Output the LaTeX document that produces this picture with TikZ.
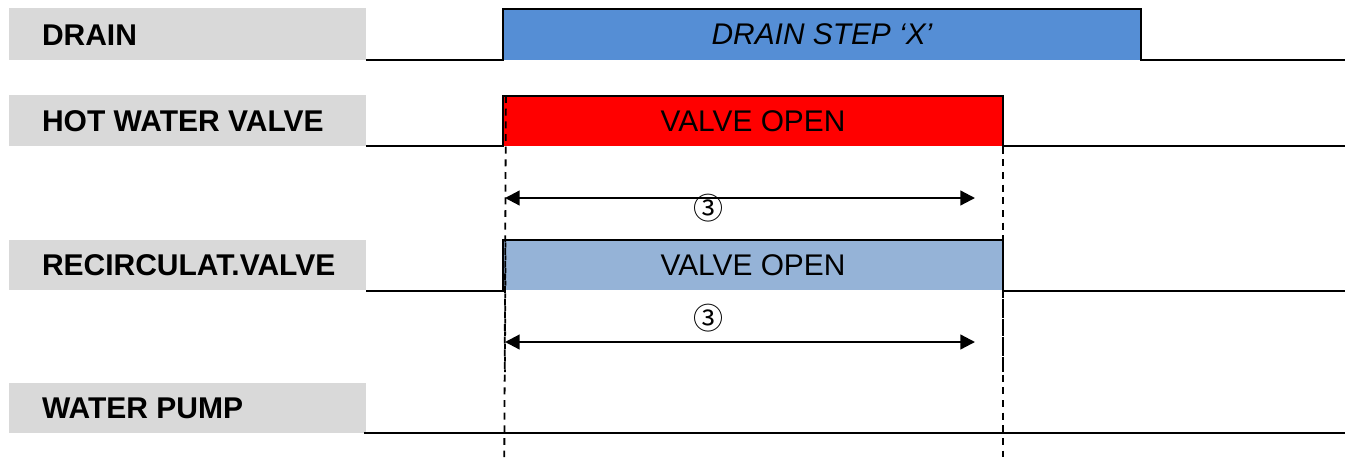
\documentclass[tikz,border=0pt]{standalone}
\usepackage{fontspec}
\setmainfont{Liberation Sans}
\newfontfamily\circfont{Noto Sans CJK KR}
\usetikzlibrary{arrows.meta,calc}
\definecolor{rowgray}{HTML}{D9D9D9}
\definecolor{drainblue}{HTML}{558ED5}
\definecolor{valveblue}{HTML}{95B3D7}
\tikzset{
  rowbox/.style={fill=rowgray,draw=none,inner sep=0pt,outer sep=0pt,anchor=north west,minimum width=267.75pt},
  rowlabel/.style={anchor=base west,inner sep=0pt,outer sep=0pt,font=\fontsize{22.5}{25}\selectfont\bfseries},
  pulse/.style={inner sep=0pt,outer sep=0pt,anchor=north west,minimum height=37.5pt,font=\fontsize{22.4}{25}\selectfont},
  wave/.style={line width=1.7pt,line join=miter},
  guide/.style={line width=1.35pt,dash pattern=on 5.2pt off 4.3pt},
  guideover/.style={line width=1.35pt,dash pattern=on 3.6pt off 5.9pt,dash phase=4.45pt},
  span/.style={line width=1.7pt,{Triangle[length=11pt,width=11pt]}-{Triangle[length=11pt,width=11pt]}},
  circnum/.style={inner sep=0pt,outer sep=0pt,font=\fontsize{22.5}{25}\circfont}
}
\begin{document}
\begin{tikzpicture}[x=0.75pt,y=-0.75pt]
\useasboundingbox (0,0) rectangle (1351,457);
% row label boxes
\node[rowbox,minimum height=39pt] (b1) at (9,8) {};
\node[rowbox,minimum height=38.25pt] (b2) at (9,95) {};
\node[rowbox,minimum height=37.5pt] (b3) at (9,240) {};
\node[rowbox,minimum height=37.5pt] (b4) at (9,383) {};
\node[rowlabel] (t1) at (42,45.3) {DRAIN};
\node[rowlabel] (t2) at (42,131) {HOT WATER VALVE};
\node[rowlabel] (t3) at (42,275.7) {RECIRCULAT.VALVE};
\node[rowlabel] (t4) at (42,418.7) {WATER PUMP};
% pulses
\node[pulse,fill=drainblue,minimum width=478.5pt,minimum height=38.25pt,font=\fontsize{22.4}{25}\selectfont\itshape] (p1) at (503,9) {DRAIN STEP ‘X’};
\node[pulse,fill=red,minimum width=375pt] (p2) at (503,96) {VALVE OPEN};
\node[pulse,fill=valveblue,minimum width=375pt,minimum height=37.5pt] (p3) at (503,240) {VALVE OPEN};
% line ends
\coordinate (e1) at (1345,60);
\coordinate (e2) at (1345,146);
\coordinate (e3) at (1345,291);
\coordinate (s3) at (366,291);
\coordinate (s4) at (364,433);
\coordinate (e4) at (1345,433);
\draw[wave] (b1.south east) -- (p1.south west) -- (p1.north west) -- (p1.north east) -- (p1.south east) -- (e1);
\draw[wave] (b2.south east) -- (p2.south west) -- (p2.north west) -- (p2.north east) -- (p2.south east) -- (e2);
\draw[wave] (s3) -- (s3 -| p3.west) -- (p3.north west) -- (p3.north east) -- (e3 -| p3.east) -- (e3);
\draw[wave] (s4) -- (e4);
% guides
\coordinate (gl1) at (505.9,96);
\coordinate (gl2) at (504.3,457);
\coordinate (gr1) at (1003,96);
\coordinate (gr2) at (1003,457);
\coordinate (ol1) at (505.6,236);
\coordinate (ol2) at (504.9,372);
\coordinate (or1) at (1003,236);
\coordinate (or2) at (1003,372);
\draw[guide] (gl1) -- (gl2);
\draw[guide] (gr1) -- (gr2);
\draw[guideover] (ol1) -- (ol2);
\draw[guideover] (or1) -- (or2);
% spans
\coordinate (a1l) at (505,198);
\coordinate (a1r) at (975,198);
\coordinate (a2l) at (505,342);
\coordinate (a2r) at (975,342);
\draw[span] (a1l) -- (a1r);
\draw[span] (a2l) -- (a2r);
\node[circnum] (n1) at (708,208) {③};
\node[circnum] (n2) at (708,318) {③};
\end{tikzpicture}
\end{document}
